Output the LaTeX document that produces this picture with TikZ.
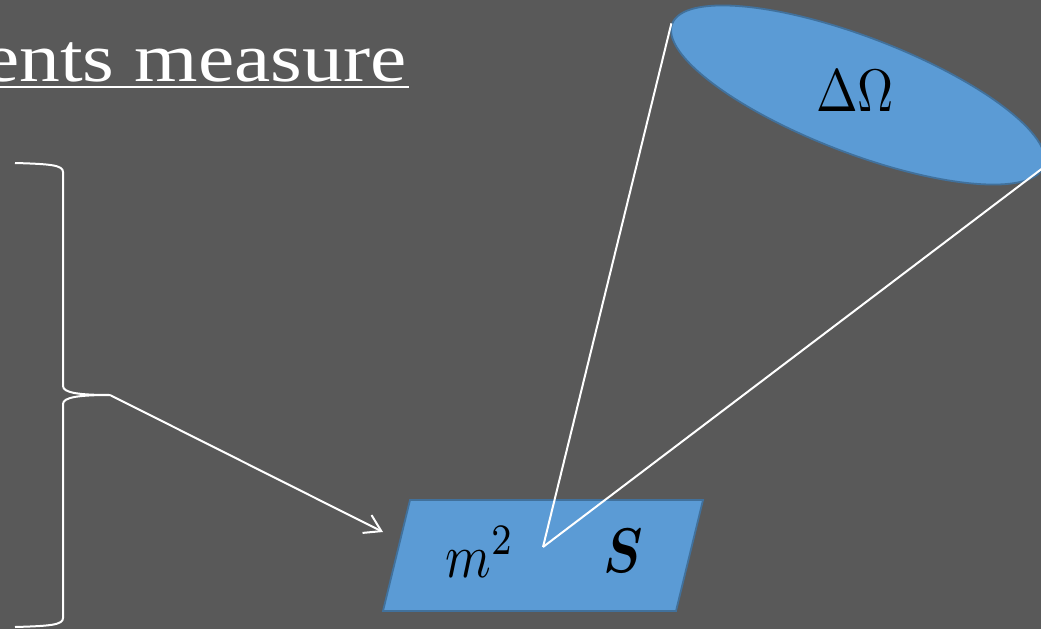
\documentclass[tikz,border=0pt]{standalone}
\usepackage{fontspec}
\setmainfont{Liberation Serif}
\usepackage{bm}
\usepackage{graphicx}
\usetikzlibrary{shapes.geometric,arrows.meta}
\definecolor{bg}{HTML}{595959}
\definecolor{blfill}{HTML}{5B9BD5}
\definecolor{bledge}{HTML}{41719C}
\tikzset{
  wline/.style={draw=white, line width=2pt},
  blueshape/.style={fill=blfill, draw=bledge, line width=1.8pt},
  mathlbl/.style={text=black, inner sep=0pt, anchor=base},
}
\begin{document}
\begin{tikzpicture}[x=1pt,y=-1pt]
\fill[bg] (0,0) rectangle (1041,629);
\useasboundingbox (0,0) rectangle (1041,629);
\clip (0,0) rectangle (1041,629);
% title
\node[text=white, inner sep=0pt, anchor=base east] (title) at (407,81)
  {\fontsize{60}{60}\selectfont\scalebox{1.36}[1.15]{ents measure}};
\coordinate (ulA) at (0,87);
\coordinate (ulB) at (409,87);
\draw[wline, line width=1.8pt] (ulA) -- (ulB);
% brace
\coordinate (btop) at (15,163);
\coordinate (bbot) at (15,627);
\coordinate (btip) at (110,395);
\draw[wline] (btop) .. controls (50,164) and (63,165) .. (63,172)
  -- (63,386) .. controls (63,393) and (80,395) .. (btip)
  .. controls (80,395) and (63,397) .. (63,404)
  -- (63,618) .. controls (63,625) and (50,626) .. (bbot);
% parallelogram
\coordinate (pTL) at (410,500);
\coordinate (pTR) at (703,500);
\coordinate (pBR) at (676,611);
\coordinate (pBL) at (383,611);
\draw[blueshape] (pTL) -- (pTR) -- (pBR) -- (pBL) -- cycle;
\coordinate (apex) at (543,547);
\coordinate (arrend) at (383,532);
% ellipse
\node[ellipse, blueshape, minimum width=398pt, minimum height=116pt, rotate=-21] (omega) at (858,95) {};
\node[mathlbl] (dO) at (855,111) {\scalebox{5}[6]{$\Delta\Omega$}};
% labels
\node[mathlbl] (m2) at (480,577) {\scalebox{5.2}[6.2]{$m^2$}};
\node[mathlbl] (S) at (623,572) {\scalebox{5.3}[6.3]{$\bm{S}$}};
% connectors
\draw[wline] (apex) -- (omega.west);
\draw[wline] (apex) -- (omega.east);
\draw[wline, -{Straight Barb[length=16pt,width=20pt]}] (btip) -- (arrend);
\end{tikzpicture}
\end{document}
